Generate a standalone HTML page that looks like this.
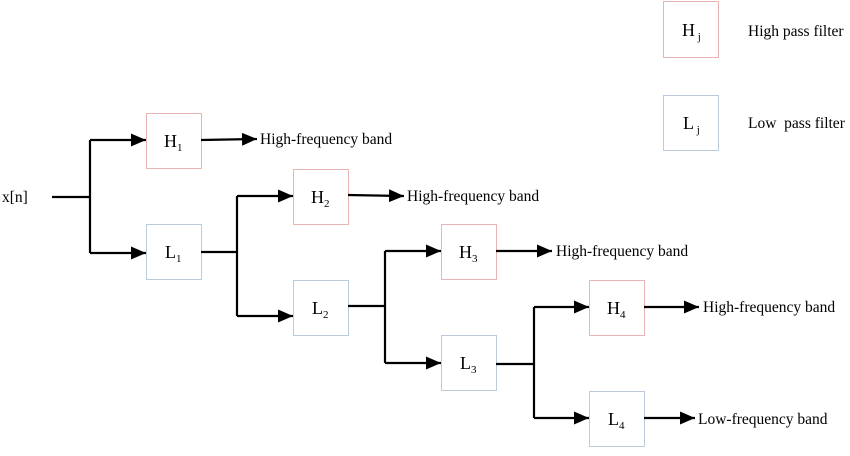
<!DOCTYPE html>
<html><head><meta charset="utf-8"><style>
html,body{margin:0;padding:0;background:#fff;}
svg text{font-family:"Liberation Serif",serif;fill:#000;}
</style></head><body>
<svg width="850" height="451" viewBox="0 0 850 451" xmlns="http://www.w3.org/2000/svg">
<defs>
<marker id="a" markerWidth="15" markerHeight="13" refX="15" refY="6.5" orient="auto" markerUnits="userSpaceOnUse">
<path d="M0,0 L15,6.5 L0,13 Z" fill="#000"/></marker>
</defs>
<g fill="none" stroke-width="1">
<rect x="146.5" y="113.5" width="55" height="55" stroke="#e8b4b4"/>
<rect x="146.5" y="224.5" width="55" height="55" stroke="#bccbdc"/>
<rect x="293.5" y="169.5" width="55" height="55" stroke="#e8b4b4"/>
<rect x="293.5" y="280.5" width="55" height="55" stroke="#bccbdc"/>
<rect x="441.5" y="224.5" width="55" height="55" stroke="#e8b4b4"/>
<rect x="441.5" y="335.5" width="55" height="55" stroke="#bccbdc"/>
<rect x="589.5" y="280.5" width="55" height="55" stroke="#e8b4b4"/>
<rect x="589.5" y="391.5" width="55" height="55" stroke="#bccbdc"/>
<rect x="663.5" y="1.5" width="55" height="56" stroke="#e8b4b4"/>
<rect x="663.5" y="95.5" width="55" height="55" stroke="#bccbdc"/>
</g>
<g stroke="#000" stroke-width="2.2" fill="none">
<path d="M52,197 H90 M90,140 V253"/>
<path d="M90,140 H146" marker-end="url(#a)"/>
<path d="M90,253 H146" marker-end="url(#a)"/>
<path d="M201,140 L257,139" marker-end="url(#a)"/>
<path d="M201,252 H237 M237,196 V316"/>
<path d="M237,196 H293" marker-end="url(#a)"/>
<path d="M237,316 H293" marker-end="url(#a)"/>
<path d="M348,195 L404,196" marker-end="url(#a)"/>
<path d="M348,306 H385 M385,251 V363"/>
<path d="M385,251 H441" marker-end="url(#a)"/>
<path d="M385,363 H441" marker-end="url(#a)"/>
<path d="M496,251 H552" marker-end="url(#a)"/>
<path d="M496,364 H534 M534,307 V418"/>
<path d="M534,307 H589" marker-end="url(#a)"/>
<path d="M534,418 H589" marker-end="url(#a)"/>
<path d="M644,307 H699" marker-end="url(#a)"/>
<path d="M644,418 H695" marker-end="url(#a)"/>
</g>
<g font-size="15.5">
<text x="2" y="202">x[n]</text>
<text x="260" y="144">High-frequency band</text>
<text x="407" y="201">High-frequency band</text>
<text x="556" y="256">High-frequency band</text>
<text x="703" y="312">High-frequency band</text>
<text x="698" y="424">Low-frequency band</text>
<text x="748" y="36">High pass filter</text>
<text x="748" y="128">Low&#160; pass filter</text>
</g>
<g font-size="18">
<text x="164" y="147">H<tspan font-size="11" dy="4">1</tspan></text>
<text x="165" y="258">L<tspan font-size="11" dy="4">1</tspan></text>
<text x="311" y="203">H<tspan font-size="11" dy="4">2</tspan></text>
<text x="312" y="314">L<tspan font-size="11" dy="4">2</tspan></text>
<text x="459" y="258">H<tspan font-size="11" dy="4">3</tspan></text>
<text x="460" y="369">L<tspan font-size="11" dy="4">3</tspan></text>
<text x="607" y="314">H<tspan font-size="11" dy="4">4</tspan></text>
<text x="608" y="425">L<tspan font-size="11" dy="4">4</tspan></text>
<text x="682" y="36">H<tspan font-size="11" dy="4"> j</tspan></text>
<text x="683" y="129">L<tspan font-size="11" dy="4"> j</tspan></text>
</g>
</svg>
</body></html>
